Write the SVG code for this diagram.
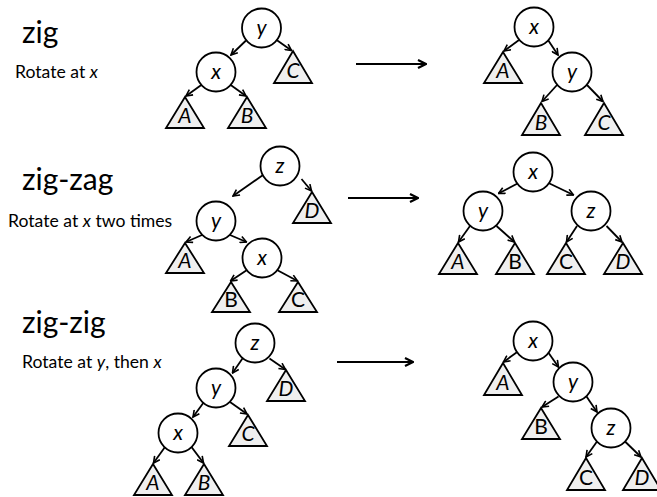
<svg xmlns="http://www.w3.org/2000/svg" width="657" height="497" viewBox="0 0 657 497">
<style>
.bg{fill:#fff}
.n{fill:#fff;stroke:#000;stroke-width:1.8}
.t{fill:#efefef;stroke:#000;stroke-width:1.8;stroke-linejoin:miter}
.e{stroke:#000;stroke-width:1.8;fill:none;marker-end:url(#ah)}
.big{stroke:#000;stroke-width:2.2;fill:none;marker-end:url(#ahb)}
.lab{font-family:Lato,"Open Sans",sans-serif;font-size:21px;font-style:italic;text-anchor:middle;fill:#000}
.up{font-style:normal}
.title{font-family:Lato,"Open Sans",sans-serif;font-size:30px;fill:#000}
.sub{font-family:Lato,"Open Sans",sans-serif;font-size:17.6px;fill:#000}
.i{font-style:italic}
</style>
<defs>
<marker id="ah" viewBox="0 0 10 10" refX="9" refY="5" markerWidth="8" markerHeight="8" markerUnits="userSpaceOnUse" orient="auto">
<path d="M1,1 L9,5 L1,9" fill="none" stroke="#000" stroke-width="2"/>
</marker>
<marker id="ahb" viewBox="0 0 10 10" refX="9" refY="5" markerWidth="10" markerHeight="10" markerUnits="userSpaceOnUse" orient="auto">
<path d="M1,1 L9,5 L1,9" fill="none" stroke="#000" stroke-width="2.2"/>
</marker>
</defs>
<rect class="bg" width="657" height="497"/>

<g id="texts">
<text class="title" x="22" y="43">zig</text>
<text class="sub" x="15" y="78">Rotate at <tspan class="i">x</tspan></text>
<text class="title" x="22" y="190">zig-zag</text>
<text class="sub" x="8" y="227">Rotate at <tspan class="i">x</tspan> two times</text>
<text class="title" x="22" y="333">zig-zig</text>
<text class="sub" x="22" y="368">Rotate at <tspan class="i">y</tspan>, then <tspan class="i">x</tspan></text>
</g>

<g id="connectors">
<!-- panel 1 left -->
<line class="e" x1="246" y1="40.5" x2="231" y2="55"/>
<line class="e" x1="274.5" y1="38.5" x2="291.5" y2="50.5"/>
<line class="e" x1="202" y1="84.5" x2="186" y2="96"/>
<line class="e" x1="230" y1="84.5" x2="246" y2="96"/>
<!-- panel 1 right -->
<line class="e" x1="519" y1="40" x2="504" y2="51"/>
<line class="e" x1="548" y1="40" x2="558" y2="55"/>
<line class="e" x1="557" y1="85" x2="542" y2="101.5"/>
<line class="e" x1="587" y1="85" x2="603" y2="101.5"/>
<!-- panel 2 left -->
<line class="e" x1="263" y1="175" x2="233" y2="196"/>
<line class="e" x1="301.5" y1="179" x2="311.5" y2="191"/>
<line class="e" x1="202" y1="235" x2="186" y2="242"/>
<line class="e" x1="230" y1="235" x2="246.5" y2="242"/>
<line class="e" x1="247" y1="270" x2="230.5" y2="281"/>
<line class="e" x1="277" y1="270" x2="297.5" y2="281"/>
<!-- panel 2 right -->
<line class="e" x1="518.5" y1="183" x2="498.5" y2="193.5"/>
<line class="e" x1="548.5" y1="183" x2="573.5" y2="195"/>
<line class="e" x1="470" y1="226" x2="458.5" y2="242"/>
<line class="e" x1="496.5" y1="226" x2="514.5" y2="242"/>
<line class="e" x1="577" y1="226" x2="566.5" y2="242"/>
<line class="e" x1="606.5" y1="226" x2="622" y2="242"/>
<!-- panel 3 left -->
<line class="e" x1="243.5" y1="357" x2="232.5" y2="373"/>
<line class="e" x1="269.5" y1="358.5" x2="285.5" y2="369.5"/>
<line class="e" x1="204" y1="402" x2="193" y2="417"/>
<line class="e" x1="230" y1="402" x2="247" y2="414"/>
<line class="e" x1="165" y1="447" x2="153.5" y2="463"/>
<line class="e" x1="191.5" y1="447" x2="203.5" y2="463"/>
<!-- panel 3 right -->
<line class="e" x1="520" y1="350" x2="503.5" y2="362"/>
<line class="e" x1="546.5" y1="350" x2="558.5" y2="367"/>
<line class="e" x1="558.5" y1="396.5" x2="542" y2="407"/>
<line class="e" x1="586.5" y1="396.5" x2="597" y2="412"/>
<line class="e" x1="597" y1="441.5" x2="586" y2="457"/>
<line class="e" x1="625" y1="441.5" x2="641" y2="457"/>
<!-- transformation arrows -->
<line class="big" x1="356" y1="64" x2="426" y2="64"/>
<line class="big" x1="348" y1="198" x2="418" y2="198"/>
<line class="big" x1="337" y1="362" x2="413" y2="362"/>
</g>

<!-- panel 1 left -->
<g id="p1l-y"><circle class="n" cx="261.5" cy="28" r="19.5"/><text class="lab" x="261.5" y="35">y</text></g>
<g id="p1l-x"><circle class="n" cx="216" cy="72" r="19.5"/><text class="lab" x="216" y="79">x</text></g>
<g id="p1l-A"><path class="t" d="M185,97 L166,128 L204,128 Z"/><text class="lab" x="185" y="123">A</text></g>
<g id="p1l-B"><path class="t" d="M247,97 L228,128 L266,128 Z"/><text class="lab" x="247" y="123">B</text></g>
<g id="p1l-C"><path class="t" d="M293,51 L274,83 L312,83 Z"/><text class="lab" x="293" y="78">C</text></g>

<!-- panel 1 right -->
<g id="p1r-x"><circle class="n" cx="534" cy="27" r="19.5"/><text class="lab" x="534" y="34">x</text></g>
<g id="p1r-y"><circle class="n" cx="572" cy="72" r="19.5"/><text class="lab" x="572" y="79">y</text></g>
<g id="p1r-A"><path class="t" d="M503,52 L484,83 L522,83 Z"/><text class="lab" x="503" y="78">A</text></g>
<g id="p1r-B"><path class="t" d="M541,103 L522,135 L560,135 Z"/><text class="lab" x="541" y="130">B</text></g>
<g id="p1r-C"><path class="t" d="M604,103 L585,135 L623,135 Z"/><text class="lab" x="604" y="130">C</text></g>

<!-- panel 2 left -->
<g id="p2l-z"><circle class="n" cx="280" cy="166" r="19.5"/><text class="lab" x="280" y="173">z</text></g>
<g id="p2l-y"><circle class="n" cx="216" cy="221" r="19.5"/><text class="lab" x="216" y="228">y</text></g>
<g id="p2l-x"><circle class="n" cx="262" cy="258" r="19.5"/><text class="lab" x="262" y="265">x</text></g>
<g id="p2l-A"><path class="t" d="M185,243 L166,273 L204,273 Z"/><text class="lab" x="185" y="268">A</text></g>
<g id="p2l-B"><path class="t" d="M231,282 L212,312 L250,312 Z"/><text class="lab up" x="231" y="307">B</text></g>
<g id="p2l-C"><path class="t" d="M298,282 L279,312 L317,312 Z"/><text class="lab up" x="298" y="307">C</text></g>
<g id="p2l-D"><path class="t" d="M312,192 L293,223 L331,223 Z"/><text class="lab" x="312" y="218">D</text></g>

<!-- panel 2 right -->
<g id="p2r-x"><circle class="n" cx="533" cy="172" r="19.5"/><text class="lab" x="533" y="179">x</text></g>
<g id="p2r-y"><circle class="n" cx="483" cy="211" r="19.5"/><text class="lab" x="483" y="218">y</text></g>
<g id="p2r-z"><circle class="n" cx="591" cy="211" r="19.5"/><text class="lab" x="591" y="218">z</text></g>
<g id="p2r-A"><path class="t" d="M458,243 L439,274 L477,274 Z"/><text class="lab" x="458" y="269">A</text></g>
<g id="p2r-B"><path class="t" d="M515,243 L496,274 L534,274 Z"/><text class="lab up" x="515" y="269">B</text></g>
<g id="p2r-C"><path class="t" d="M566,243 L547,274 L585,274 Z"/><text class="lab up" x="566" y="269">C</text></g>
<g id="p2r-D"><path class="t" d="M623,243 L604,274 L642,274 Z"/><text class="lab" x="623" y="269">D</text></g>

<!-- panel 3 left -->
<g id="p3l-z"><circle class="n" cx="255" cy="343" r="19.5"/><text class="lab" x="255" y="350">z</text></g>
<g id="p3l-y"><circle class="n" cx="216" cy="388" r="19.5"/><text class="lab" x="216" y="395">y</text></g>
<g id="p3l-x"><circle class="n" cx="178" cy="433" r="19.5"/><text class="lab" x="178" y="440">x</text></g>
<g id="p3l-A"><path class="t" d="M153,464 L134,495 L172,495 Z"/><text class="lab" x="153" y="490">A</text></g>
<g id="p3l-B"><path class="t" d="M204,464 L185,495 L223,495 Z"/><text class="lab" x="204" y="490">B</text></g>
<g id="p3l-C"><path class="t" d="M248,415 L229,446 L267,446 Z"/><text class="lab" x="248" y="441">C</text></g>
<g id="p3l-D"><path class="t" d="M286,370 L267,401 L305,401 Z"/><text class="lab" x="286" y="396">D</text></g>

<!-- panel 3 right -->
<g id="p3r-x"><circle class="n" cx="533" cy="341" r="19.5"/><text class="lab" x="533" y="348">x</text></g>
<g id="p3r-y"><circle class="n" cx="573" cy="382" r="19.5"/><text class="lab" x="573" y="389">y</text></g>
<g id="p3r-z"><circle class="n" cx="611" cy="428" r="19.5"/><text class="lab" x="611" y="435">z</text></g>
<g id="p3r-A"><path class="t" d="M503,363 L484,395 L522,395 Z"/><text class="lab" x="503" y="390">A</text></g>
<g id="p3r-B"><path class="t" d="M541,408 L522,439 L560,439 Z"/><text class="lab up" x="541" y="434">B</text></g>
<g id="p3r-C"><path class="t" d="M586,458 L567,490 L605,490 Z"/><text class="lab up" x="586" y="485">C</text></g>
<g id="p3r-D"><path class="t" d="M642,458 L623,490 L661,490 Z"/><text class="lab" x="642" y="485">D</text></g>
</svg>
